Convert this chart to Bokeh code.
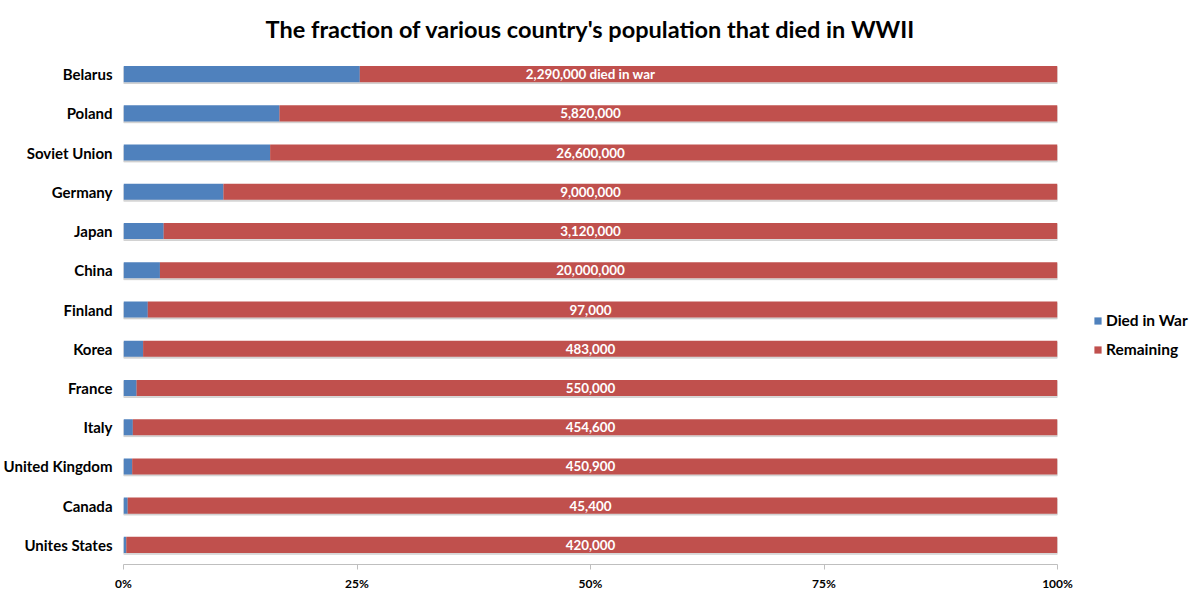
from bokeh.plotting import figure
from bokeh.models import FactorRange, ColumnDataSource, FixedTicker, CustomJSTickFormatter, Legend, LegendItem, Title
from bokeh.transform import dodge
from bokeh.core.properties import value
from bokeh.embed import file_html
from bokeh.resources import INLINE

countries = ["Belarus", "Poland", "Soviet Union", "Germany", "Japan", "China", "Finland",
             "Korea", "France", "Italy", "United Kingdom", "Canada", "Unites States"]
died_fraction = [0.253, 0.167, 0.157, 0.107, 0.043, 0.039, 0.026, 0.021, 0.014, 0.010, 0.0093, 0.0045, 0.003]
death_labels = ["2,290,000 died in war", "5,820,000", "26,600,000", "9,000,000", "3,120,000",
                "20,000,000", "97,000", "483,000", "550,000", "454,600", "450,900", "45,400", "420,000"]
x_ticks = [0, 0.25, 0.5, 0.75, 1.0]

remaining_fraction = [1 - d for d in died_fraction]
FONT = "Lato"
BLUE = "#4f81bd"
RED = "#c0504d"

src = ColumnDataSource(dict(country=countries, died=died_fraction, remaining=remaining_fraction,
                            label=death_labels, mid=[0.5] * len(countries)))

p = figure(frame_width=934, frame_height=510, output_backend="svg", toolbar_location=None,
           y_range=FactorRange(*list(reversed(countries)), range_padding=0),
           x_range=(0, 1), min_border_left=115, min_border_right=133, min_border_top=0,
           min_border_bottom=10)
p.title = Title(text="The fraction of various country's population that died in WWII",
                align="center", text_font=FONT, text_font_size="23.5px", text_font_style="bold",
                text_color="#000000", offset=0, standoff=14, padding=5)
p.outline_line_color = None
p.xgrid.visible = False
p.ygrid.visible = False

# subtle shadow
p.hbar(y=dodge("country", -0.035, range=p.y_range), left=0, right=1.0015, height=0.41,
       source=src, color="#b0b0b0", alpha=0.45)

r_died = p.hbar(y="country", left=0, right="died", height=0.41, source=src,
                fill_color=BLUE, line_color=None)
r_rem = p.hbar(y="country", left="died", right=1, height=0.41, source=src,
               fill_color=RED, line_color=None)

p.text(x="mid", y="country", text="label", source=src, text_color="white",
       text_font=value(FONT), text_font_size="13.4px", text_font_style="bold",
       text_align="center", text_baseline="middle")

xa = p.xaxis[0]
xa.ticker = FixedTicker(ticks=x_ticks)
xa.formatter = CustomJSTickFormatter(code="return Math.round(tick*100) + '%';")
xa.axis_line_color = "#bfbfbf"
xa.major_tick_line_color = "#bfbfbf"
xa.major_tick_out = 5
xa.major_tick_in = 0
xa.minor_tick_line_color = None
xa.major_label_text_font = FONT
xa.major_label_text_font_style = "bold"
xa.major_label_text_font_size = "12px"
xa.major_label_text_color = "#000000"
xa.major_label_standoff = 6

ya = p.yaxis[0]
ya.axis_line_color = None
ya.major_tick_line_color = None
ya.minor_tick_line_color = None
ya.major_label_text_font = FONT
ya.major_label_text_font_style = "bold"
ya.major_label_text_font_size = "15px"
ya.major_label_text_color = "#000000"
ya.major_label_standoff = 5

legend = Legend(items=[LegendItem(label="Died in War", renderers=[r_died]),
                       LegendItem(label="Remaining", renderers=[r_rem])],
                location=(36, 205), label_text_font=FONT, label_text_font_style="bold",
                label_text_font_size="15.5px", label_text_color="#000000",
                glyph_width=9, glyph_height=9,
                label_height=20, label_standoff=4, spacing=9, border_line_color=None,
                padding=2, background_fill_alpha=0, margin=0)
p.add_layout(legend, "right")

open("out.html", "w").write(file_html(p, INLINE))
